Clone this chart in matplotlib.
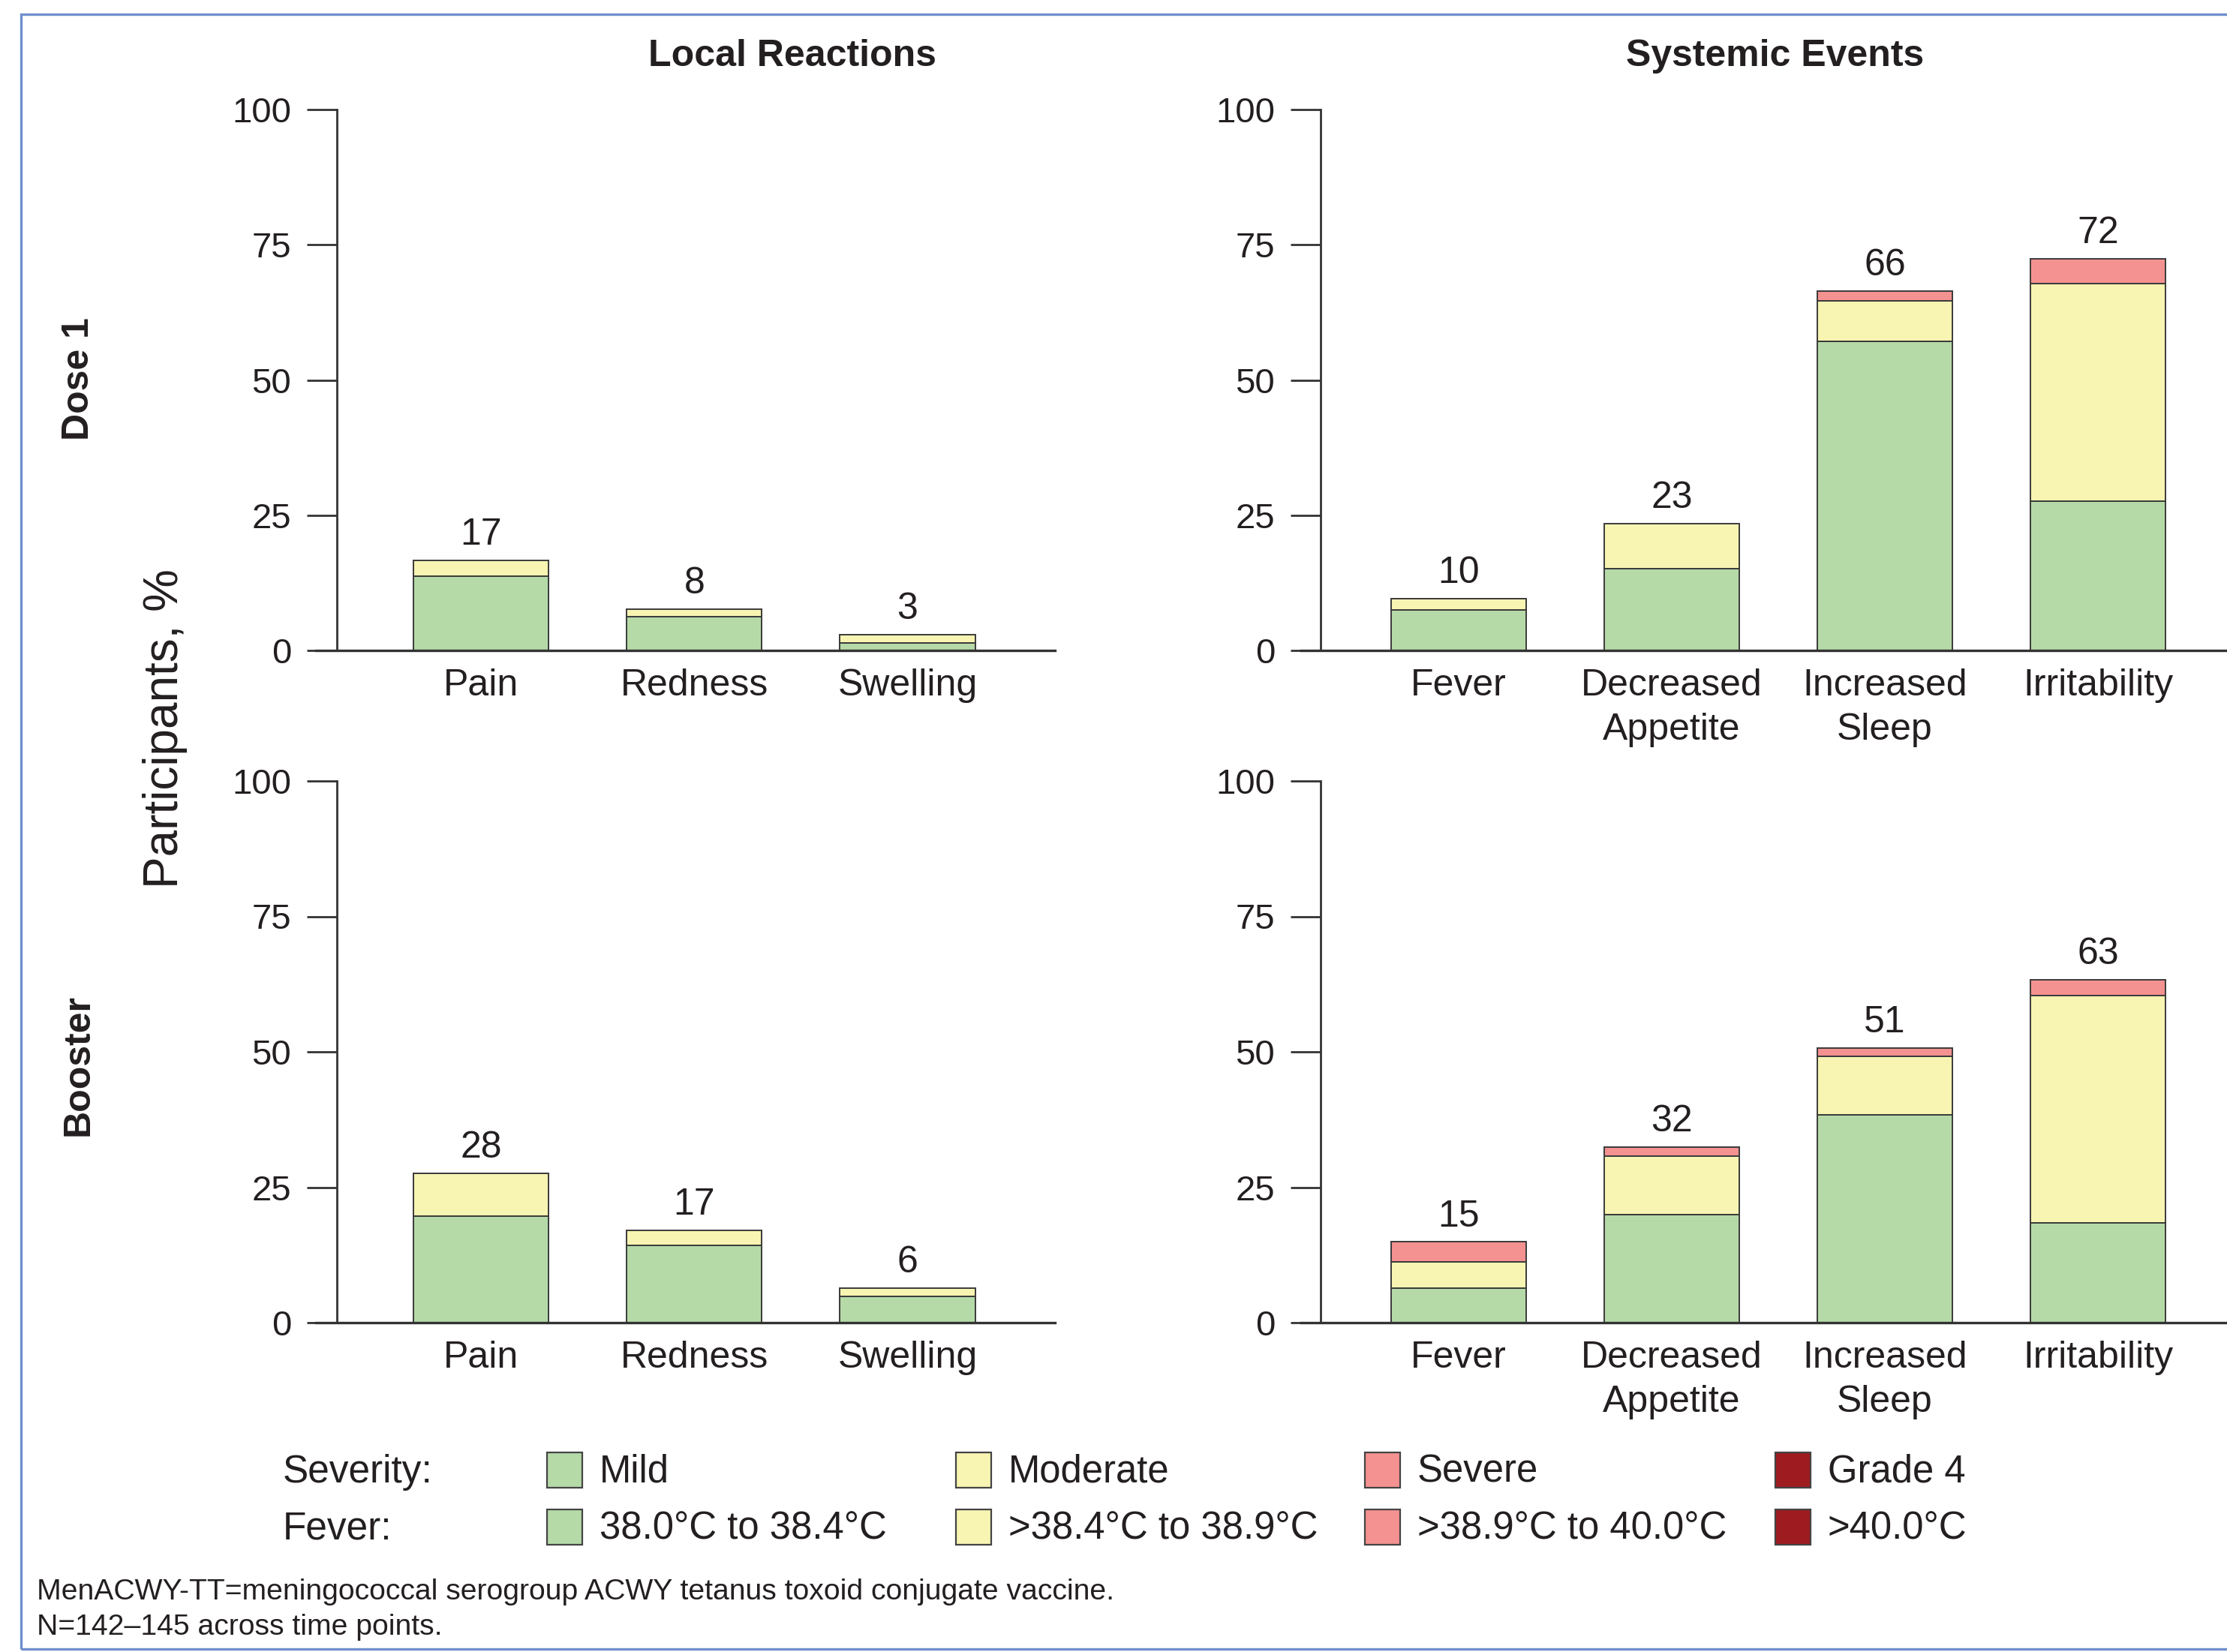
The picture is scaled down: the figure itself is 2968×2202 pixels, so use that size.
import matplotlib
matplotlib.use("Agg")
import matplotlib.pyplot as plt
from matplotlib.patches import Rectangle
import numpy as np

# ---- data -------------------------------------------------------------
local_cats = ["Pain", "Redness", "Swelling"]
systemic_cats = ["Fever", "Decreased\nAppetite", "Increased\nSleep", "Irritability"]

dose1_local_mild = [13.7, 6.2, 1.4]
dose1_local_moderate = [2.9, 1.4, 1.5]

booster_local_mild = [19.6, 14.2, 4.8]
booster_local_moderate = [8.0, 2.9, 1.6]

dose1_sys_mild = [7.5, 15.1, 57.1, 27.6]
dose1_sys_moderate = [2.1, 8.3, 7.6, 40.2]
dose1_sys_severe = [0.0, 0.0, 1.7, 4.6]

booster_sys_mild = [6.4, 20.0, 38.3, 18.4]
booster_sys_moderate = [4.8, 10.8, 10.9, 42.0]
booster_sys_severe = [3.7, 1.6, 1.5, 2.9]

y_ticks = [0, 25, 50, 75, 100]

column_titles = ["Local Reactions", "Systemic Events"]
row_titles = ["Dose 1", "Booster"]
y_label = "Participants, %"

legend_headers = ["Severity:", "Fever:"]
severity_labels = ["Mild", "Moderate", "Severe", "Grade 4"]
fever_labels = ["38.0°C to 38.4°C", ">38.4°C to 38.9°C", ">38.9°C to 40.0°C", ">40.0°C"]

footnotes = [
    "MenACWY-TT=meningococcal serogroup ACWY tetanus toxoid conjugate vaccine.",
    "N=142–145 across time points.",
]

# ---- style ------------------------------------------------------------
W, H, DPI = 2968, 2202, 200
plt.rcParams["font.family"] = ["Liberation Sans", "DejaVu Sans"]
INK = "#231f20"
EDGE = "#3a3a3a"
C_MILD = "#b5daa8"
C_MOD = "#f8f4b2"
C_SEV = "#f49291"
C_G4 = "#9e1b20"
legend_colors = [C_MILD, C_MOD, C_SEV, C_G4]

fig = plt.figure(figsize=(W / DPI, H / DPI), dpi=DPI)


def fx(px):
    return px / W


def fy(py):
    return 1 - py / H


def panel(left_px, width_px, top_px, bottom_px, xlim, spine_x, cats, layers):
    ax = fig.add_axes([fx(left_px), fy(bottom_px), fx(width_px),
                       (bottom_px - top_px) / H])
    ax.patch.set_alpha(0)
    x = np.arange(len(cats))
    base = np.zeros(len(cats))
    for vals, color in layers:
        vals = np.asarray(vals, float)
        m = vals > 0
        ax.bar(x[m], vals[m], width=0.635, bottom=base[m], color=color,
               edgecolor=EDGE, linewidth=0.7, zorder=2)
        base = base + vals
    for xi, tot in zip(x, base):
        ax.annotate(f"{round(tot):d}", (xi, tot), xytext=(0, 7.5),
                    textcoords="offset points", ha="center", va="baseline",
                    fontsize=18, color=INK)
    ax.set_xlim(*xlim)
    ax.set_ylim(0, 100)
    for s in ("top", "right"):
        ax.spines[s].set_visible(False)
    ax.spines["left"].set_position(("data", spine_x))
    ax.spines["left"].set_bounds(0, 100)
    for s in ("left", "bottom"):
        ax.spines[s].set_color("#333333")
        ax.spines[s].set_linewidth(1.0)
    ax.spines["bottom"].set_linewidth(1.2)
    ax.set_yticks(y_ticks)
    ax.set_yticklabels([str(t) for t in y_ticks])
    ax.tick_params(axis="y", length=14.4, width=1.0, pad=7.5, labelsize=17,
                   colors="#333333", labelcolor=INK)
    ax.set_xticks(x)
    ax.set_xticklabels(cats, linespacing=1.37)
    ax.tick_params(axis="x", length=0, pad=8.5, labelsize=18, labelcolor=INK)
    return ax


rows = [(146, 867), (1041, 1763)]
local_layers = [
    [(dose1_local_mild, C_MILD), (dose1_local_moderate, C_MOD)],
    [(booster_local_mild, C_MILD), (booster_local_moderate, C_MOD)],
]
sys_layers = [
    [(dose1_sys_mild, C_MILD), (dose1_sys_moderate, C_MOD), (dose1_sys_severe, C_SEV)],
    [(booster_sys_mild, C_MILD), (booster_sys_moderate, C_MOD), (booster_sys_severe, C_SEV)],
]

for (top, bot), ll, sl in zip(rows, local_layers, sys_layers):
    panel(421, 985, top, bot, (-0.775, 2.692), -0.676, local_cats, ll)
    panel(1734, 1238, top, bot, (-0.74, 3.62), -0.648, systemic_cats, sl)

# column and row headings
fig.text(fx(1056), fy(88), column_titles[0], ha="center", va="baseline",
         fontsize=18, fontweight="bold", color=INK)
fig.text(fx(2366), fy(88), column_titles[1], ha="center", va="baseline",
         fontsize=18, fontweight="bold", color=INK)
fig.text(fx(105), fy(505), row_titles[0], rotation=90, ha="center", va="center",
         fontsize=18, fontweight="bold", color=INK)
fig.text(fx(105), fy(1420), row_titles[1], rotation=90, ha="center", va="center",
         fontsize=18, fontweight="bold", color=INK)
fig.text(fx(220), fy(971), y_label, rotation=90, ha="center", va="center",
         fontsize=23, color=INK)

# legend
col_px = [729, 1274, 1819, 2366]
sq = 47
for r, (hdr, labels) in enumerate(zip(legend_headers, [severity_labels, fever_labels])):
    sq_top = 1936 + 76 * r
    baseline = 1976 + 76 * r
    fig.text(fx(377), fy(baseline), hdr, ha="left", va="baseline",
             fontsize=18.5, color=INK)
    for cx, lab, col in zip(col_px, labels, legend_colors):
        fig.patches.append(Rectangle((fx(cx), fy(sq_top + sq)), fx(sq), sq / H,
                                     transform=fig.transFigure, facecolor=col,
                                     edgecolor="#444444", linewidth=0.8))
        fig.text(fx(cx + 70), fy(baseline), lab, ha="left", va="baseline",
                 fontsize=18.3, color=INK)

# footnotes
for i, line in enumerate(footnotes):
    fig.text(fx(49), fy(2132 + 47 * i), line, ha="left", va="baseline",
             fontsize=14.1, color=INK)

# frame
fig.patches.append(Rectangle((fx(28), fy(2198)), 1.2, (2198 - 19) / H,
                             transform=fig.transFigure, fill=False,
                             edgecolor="#6f8fcc", linewidth=1.2, clip_on=False))

fig.savefig("out.png", dpi=DPI)
